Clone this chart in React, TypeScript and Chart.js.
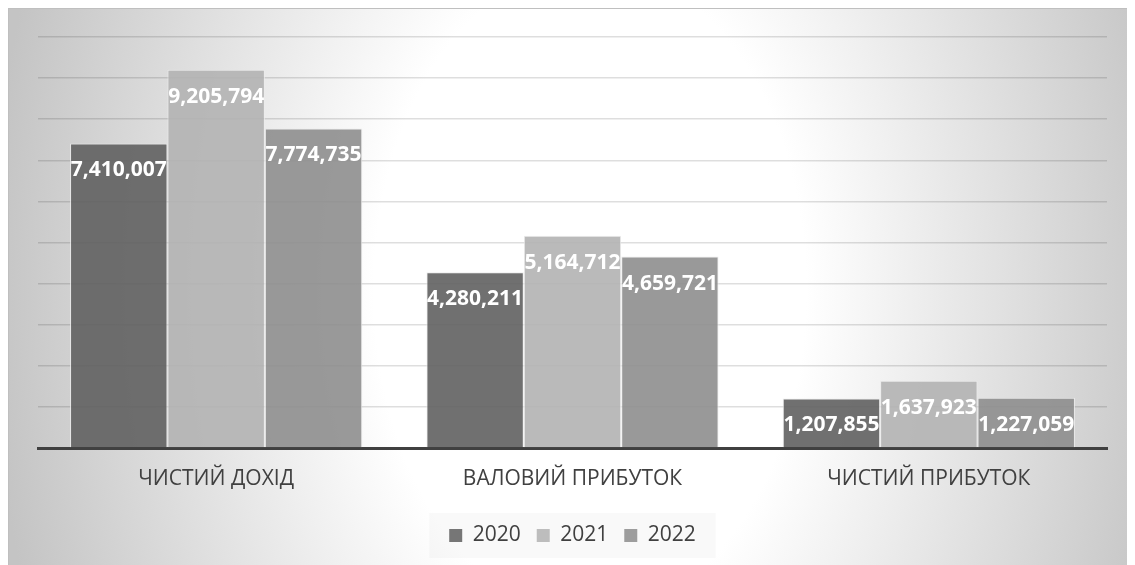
import React, { useEffect, useRef } from "react";
import { Chart, registerables } from "chart.js";

Chart.register(...registerables);

const categories = ["ЧИСТИЙ ДОХІД", "ВАЛОВИЙ ПРИБУТОК", "ЧИСТИЙ ПРИБУТОК"];
const seriesNames = ["2020", "2021", "2022"];
const values2020 = [7410007, 4280211, 1207855];
const values2021 = [9205794, 5164712, 1637923];
const values2022 = [7774735, 4659721, 1227059];
const yMax = 10000000;
const yStep = 1000000;

const barColors = ["rgba(96,96,96,0.9)", "rgba(178,178,178,0.9)", "rgba(142,142,142,0.9)"];
const FONT = "'Open Sans', 'Liberation Sans', sans-serif";

const backgroundPlugin = {
  id: "bgGradient",
  beforeDraw(chart: any) {
    const { ctx, width, height } = chart;
    ctx.save();
    const cx = 582, cy = 282, rx = 600, ry = 900;
    const s = rx / ry;
    ctx.translate(cx, cy);
    ctx.scale(s, 1);
    const g = ctx.createRadialGradient(0, 0, 0, 0, 0, ry);
    g.addColorStop(0, "#ffffff");
    g.addColorStop(0.36, "#ffffff");
    g.addColorStop(1, "#c4c4c4");
    ctx.fillStyle = g;
    ctx.fillRect(-cx / s, -cy, width / s, height);
    ctx.restore();
    ctx.save();
    ctx.strokeStyle = "#bfbfbf";
    ctx.lineWidth = 1;
    ctx.strokeRect(0.5, 0.5, width + 5, height + 5);
    const lg = chart.legend;
    if (lg && lg.legendHitBoxes && lg.legendHitBoxes.length) {
      const hb = lg.legendHitBoxes;
      const l = Math.min(...hb.map((h: any) => h.left)) - 20;
      const r = Math.max(...hb.map((h: any) => h.left + h.width)) + 20;
      const t = hb[0].top - 12;
      const b = hb[0].top + hb[0].height + 12;
      ctx.fillStyle = "rgba(0,0,0,0.025)";
      ctx.fillRect(l, t, r - l, b - t);
    }
    ctx.restore();
  },
};

const labelPlugin = {
  id: "barLabels",
  afterDatasetsDraw(chart: any) {
    const { ctx } = chart;
    ctx.save();
    ctx.font = `bold 21px ${FONT}`;
    ctx.fillStyle = "#ffffff";
    ctx.textAlign = "center";
    ctx.textBaseline = "middle";
    chart.data.datasets.forEach((ds: any, i: number) => {
      const meta = chart.getDatasetMeta(i);
      meta.data.forEach((el: any, j: number) => {
        const v = ds.data[j];
        ctx.fillText(v.toLocaleString("en-US"), el.x, el.y + 27);
      });
    });
    ctx.restore();
  },
};

export default function App() {
  const ref = useRef<HTMLCanvasElement>(null);
  useEffect(() => {
    document.body.style.overflow = "hidden";
    const solid = ["#767676", "#bdbdbd", "#9d9d9d"];
    const chart = new Chart(ref.current!, {
      type: "bar",
      data: {
        labels: categories,
        datasets: [values2020, values2021, values2022].map((d, i) => ({
          label: seriesNames[i],
          data: d,
          backgroundColor: barColors[i],
          borderColor: "rgba(235,235,235,0.9)",
          borderWidth: 1,
          categoryPercentage: 0.82,
          barPercentage: 1.0,
        })),
      },
      options: {
        animation: false,
        responsive: true,
        maintainAspectRatio: false,
        layout: { padding: { left: 30, right: 28, top: 29, bottom: 9 } },
        plugins: {
          tooltip: { enabled: false },
          legend: {
            position: "bottom",
            labels: {
              boxWidth: 13,
              boxHeight: 13,
              padding: 16,
              color: "#404040",
              font: { family: FONT, size: 21 },
              generateLabels: (c: any) =>
                Chart.defaults.plugins.legend.labels.generateLabels(c).map((l: any, i: number) => ({
                  ...l,
                  fillStyle: solid[i],
                  lineWidth: 0,
                  strokeStyle: "transparent",
                })),
            },
          },
        },
        scales: {
          x: {
            grid: { display: false, drawTicks: false },
            border: { display: true, color: "#404040", width: 3 },
            ticks: { color: "#404040", font: { family: FONT, size: 21, lineHeight: 0.9 }, padding: 21 },
          },
          y: {
            min: 0,
            max: yMax,
            ticks: { display: false, stepSize: yStep },
            grid: { color: "rgba(0,0,0,0.13)", lineWidth: 1.5, drawTicks: false },
            border: { display: false },
          },
        },
      },
      plugins: [backgroundPlugin, labelPlugin],
    });
    return () => chart.destroy();
  }, []);
  return (
    <div style={{ position: "relative", width: 1127, height: 557 }}>
      <canvas ref={ref} />
    </div>
  );
}
